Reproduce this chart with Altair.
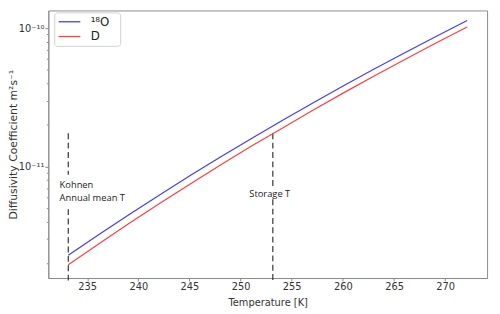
import altair as alt
import pandas as pd

# Temperatures [K]
temps = [233.15, 236.15, 239.15, 242.15, 245.15, 248.15, 251.15, 254.15,
         257.15, 260.15, 263.15, 266.15, 269.15, 272.15]
# Diffusivity coefficient [m^2 s^-1]
diff_18o = [2.29e-12, 3.24e-12, 4.53e-12, 6.30e-12, 8.69e-12, 1.19e-11, 1.61e-11,
            2.17e-11, 2.91e-11, 3.87e-11, 5.11e-11, 6.70e-11, 8.75e-11, 1.135e-10]
diff_d = [1.96e-12, 2.78e-12, 3.92e-12, 5.46e-12, 7.57e-12, 1.04e-11, 1.42e-11,
          1.91e-11, 2.58e-11, 3.44e-11, 4.56e-11, 6.00e-11, 7.85e-11, 1.02e-10]
series_names = ["¹⁸O", "D"]

# Marker lines (each split around its label box)
marker_T = [233.15, 233.15, 253.15, 253.15]
marker_top = [1.74e-11, 4.93e-12, 1.74e-11, 5.81e-12]
marker_bottom = [8.75e-12, 1.44e-12, 7.08e-12, 1.44e-12]

# Annotations
ann_left_text = ["Kohnen", "Annual mean T"]
ann_left_x = [232.3, 232.3]
ann_left_y = [7.41e-12, 5.98e-12]
ann_center_text = ["Storage T"]
ann_center_x = [252.85]
ann_center_y = [6.38e-12]

x_ticks = [235, 240, 245, 250, 255, 260, 265, 270]
y_ticks = sorted(set([m * 10.0 ** e for e in (-12, -11) for m in range(2, 10)] + [1e-11, 1e-10]))

rows = []
for name, vals in zip(series_names, [diff_18o, diff_d]):
    for t, v in zip(temps, vals):
        rows.append({"T": t, "D": v, "series": name})
df = pd.DataFrame(rows)

df_mark = pd.DataFrame({"T": marker_T, "top": marker_top, "bottom": marker_bottom})
df_ann_l = pd.DataFrame({"text": ann_left_text, "x": ann_left_x, "y": ann_left_y})
df_ann_c = pd.DataFrame({"text": ann_center_text, "x": ann_center_x, "y": ann_center_y})

xscale = alt.Scale(domain=[231.2, 274.1], nice=False, zero=False)
yscale = alt.Scale(type="log", domain=[1.57e-12, 1.343e-10], nice=False)

label_expr = ("abs(datum.value - 1e-10) < 1e-13 ? '10⁻¹⁰' : "
              "(abs(datum.value - 1e-11) < 1e-14 ? '10⁻¹¹' : '')")

lines = alt.Chart(df).mark_line(strokeWidth=1.2).encode(
    x=alt.X("T:Q", scale=xscale,
            axis=alt.Axis(title="Temperature [K]", values=x_ticks, grid=False,
                          tickSize=3, labelPadding=1, titlePadding=6)),
    y=alt.Y("D:Q", scale=yscale,
            axis=alt.Axis(title="Diffusivity Coefficient  m²s⁻¹", values=y_ticks,
                          grid=False, labelExpr=label_expr, titleFontSize=11,
                          tickSize={"expr": "(abs(datum.value - 1e-10) < 1e-13 || abs(datum.value - 1e-11) < 1e-14) ? 3.5 : 2"},
                          labelPadding=1, titlePadding=0)),
    color=alt.Color("series:N",
                    scale=alt.Scale(domain=series_names, range=["#3d3dff", "#ff3d3d"]),
                    sort=series_names,
                    legend=alt.Legend(title="\u00a0", titleOrient="right", titlePadding=8,
                                      titleFontSize=12,
                                      orient="none", legendX=6, legendY=2,
                                      symbolType="M-2,0L2,0", symbolSize=121,
                                      symbolStrokeWidth=1.3, labelFontSize=12,
                                      labelFont="DejaVu Sans", labelColor="#222",
                                      strokeColor="#d0d0d0", cornerRadius=3,
                                      padding=3, rowPadding=2, labelOffset=15,
                                      symbolOffset=6,
                                      fillColor="white")),
)

rules = alt.Chart(df_mark).mark_rule(color="#333333", strokeWidth=1.2,
                                     strokeDash=[6, 3.5]).encode(
    x=alt.X("T:Q", scale=xscale),
    y=alt.Y("top:Q", scale=yscale),
    y2="bottom:Q",
)

texts_l = alt.Chart(df_ann_l).mark_text(font="Open Sans", fontSize=9.5, color="#222",
                                        baseline="middle", align="left").encode(
    x=alt.X("x:Q", scale=xscale),
    y=alt.Y("y:Q", scale=yscale),
    text="text:N",
)
texts_c = alt.Chart(df_ann_c).mark_text(font="Open Sans", fontSize=9.5, color="#222",
                                        baseline="middle", align="center").encode(
    x=alt.X("x:Q", scale=xscale),
    y=alt.Y("y:Q", scale=yscale),
    text="text:N",
)

chart = alt.layer(rules, lines, texts_l, texts_c).properties(
    width=446, height=272,
    autosize=alt.AutoSizeParams(type="none"),
    padding={"left": 41, "top": 0, "right": 5, "bottom": 30},
).configure_view(
    stroke="#8c8c8c", strokeWidth=1,
).configure_axis(
    domainColor="#8c8c8c", tickColor="#8c8c8c", labelColor="#333",
    titleColor="#333", labelFont="DejaVu Sans", titleFont="DejaVu Sans",
    labelFontSize=10, titleFontSize=10, titleFontWeight="normal",
)

chart.save("out.html", embed_options={"renderer": "svg", "actions": False})
